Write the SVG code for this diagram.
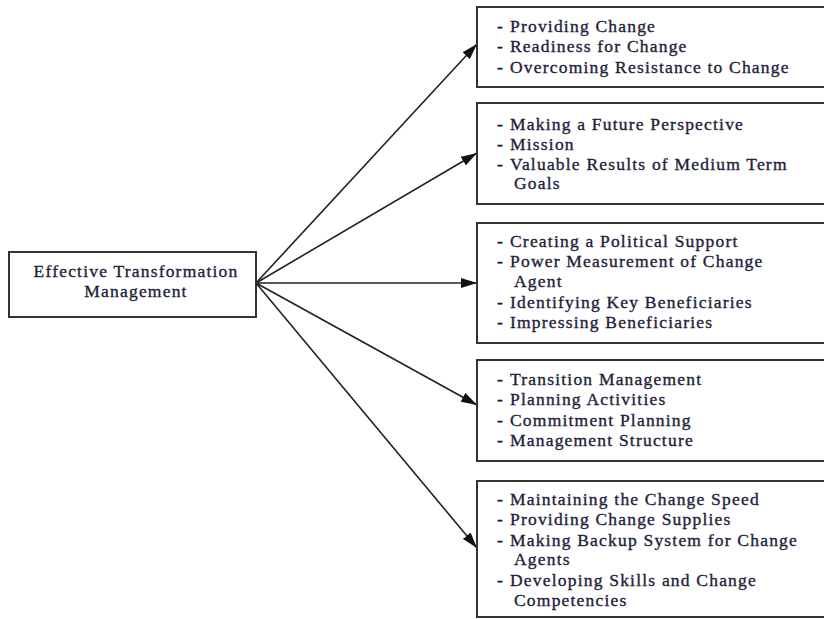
<svg xmlns="http://www.w3.org/2000/svg" width="824" height="619" viewBox="0 0 824 619">
<defs>
<style>
.box{fill:#fff;stroke:#333;stroke-width:2}
.t{font-family:"Liberation Serif","Times New Roman",serif;font-size:17.5px;fill:#1e1e3a;stroke:#1e1e3a;stroke-width:0.35;letter-spacing:1.2px}
.c{fill:none;stroke:#222;stroke-width:1.6}
</style>
<marker id="ah" viewBox="0 0 16 10" refX="16" refY="5" markerWidth="16" markerHeight="10" markerUnits="userSpaceOnUse" orient="auto">
<path d="M0,0 L16,5 L0,10 Z" fill="#111"/>
</marker>
</defs>
<rect width="824" height="619" fill="#fff"/>
<g id="connectors">
<line class="c" x1="256" y1="283" x2="477" y2="44" marker-end="url(#ah)"/>
<line class="c" x1="256" y1="283" x2="477" y2="153" marker-end="url(#ah)"/>
<line class="c" x1="256" y1="283" x2="477" y2="283" marker-end="url(#ah)"/>
<line class="c" x1="256" y1="283" x2="477" y2="405" marker-end="url(#ah)"/>
<line class="c" x1="256" y1="283" x2="477" y2="548" marker-end="url(#ah)"/>
</g>
<g id="source">
<rect class="box" x="9" y="252" width="247" height="65"/>
<text class="t" x="136" y="277" text-anchor="middle" letter-spacing="0.8">Effective Transformation</text>
<text class="t" x="136" y="297" text-anchor="middle" letter-spacing="0.8">Management</text>
</g>
<g id="box1">
<rect class="box" x="477" y="7" width="360" height="80"/>
<text class="t" x="497" y="32">- <tspan x="510">Providing Change</tspan></text>
<text class="t" x="497" y="52">- <tspan x="510">Readiness for Change</tspan></text>
<text class="t" x="497" y="73">- <tspan x="510">Overcoming Resistance to Change</tspan></text>
</g>
<g id="box2">
<rect class="box" x="477" y="103" width="360" height="101"/>
<text class="t" x="497" y="130">- <tspan x="510">Making a Future Perspective</tspan></text>
<text class="t" x="497" y="150">- <tspan x="510">Mission</tspan></text>
<text class="t" x="497" y="170">- <tspan x="510">Valuable Results of Medium Term</tspan></text>
<text class="t" x="514" y="189">Goals</text>
</g>
<g id="box3">
<rect class="box" x="477" y="223" width="360" height="120"/>
<text class="t" x="497" y="247">- <tspan x="510">Creating a Political Support</tspan></text>
<text class="t" x="497" y="267">- <tspan x="510">Power Measurement of Change</tspan></text>
<text class="t" x="514" y="287">Agent</text>
<text class="t" x="497" y="308">- <tspan x="510">Identifying Key Beneficiaries</tspan></text>
<text class="t" x="497" y="328">- <tspan x="510">Impressing Beneficiaries</tspan></text>
</g>
<g id="box4">
<rect class="box" x="477" y="360" width="360" height="101"/>
<text class="t" x="497" y="385">- <tspan x="510">Transition Management</tspan></text>
<text class="t" x="497" y="405">- <tspan x="510">Planning Activities</tspan></text>
<text class="t" x="497" y="426">- <tspan x="510">Commitment Planning</tspan></text>
<text class="t" x="497" y="446">- <tspan x="510">Management Structure</tspan></text>
</g>
<g id="box5">
<rect class="box" x="477" y="481" width="360" height="136"/>
<text class="t" x="497" y="505">- <tspan x="510">Maintaining the Change Speed</tspan></text>
<text class="t" x="497" y="525">- <tspan x="510">Providing Change Supplies</tspan></text>
<text class="t" x="497" y="546">- <tspan x="510">Making Backup System for Change</tspan></text>
<text class="t" x="514" y="565">Agents</text>
<text class="t" x="497" y="586">- <tspan x="510">Developing Skills and Change</tspan></text>
<text class="t" x="514" y="606">Competencies</text>
</g>
</svg>
